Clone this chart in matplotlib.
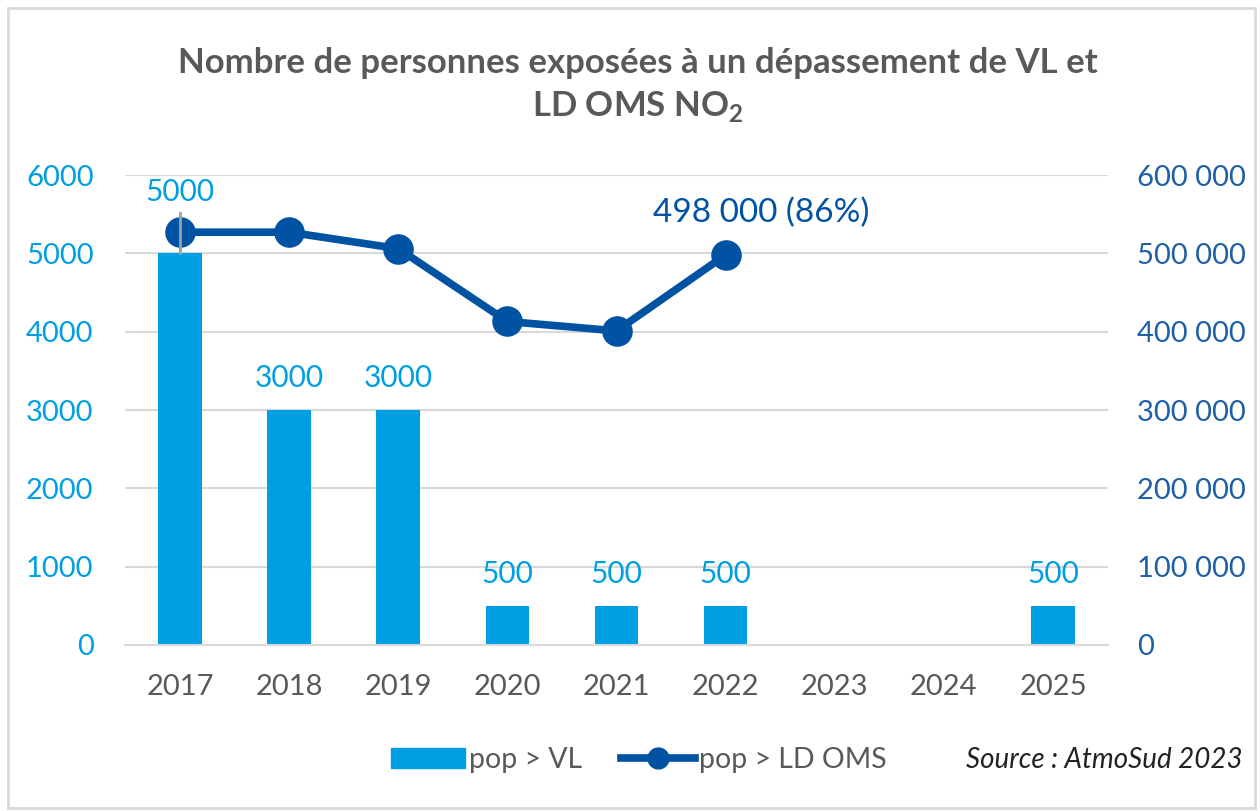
import matplotlib.pyplot as plt
import matplotlib.patches as mpatches
import numpy as np

years = ['2017', '2018', '2019', '2020', '2021', '2022', '2023', '2024', '2025']
pop_vl = [5000, 3000, 3000, 500, 500, 500, 0, 0, 500]
pop_ld_oms = [527000, 527000, 506000, 413000, 401000, 498000]
left_ticks = [0, 1000, 2000, 3000, 4000, 5000, 6000]
right_ticks = [0, 100000, 200000, 300000, 400000, 500000, 600000]

bar_color = '#009FE3'
line_color = '#0052A3'
grey = '#595959'

plt.rcParams['font.family'] = ['Lato', 'DejaVu Sans']

fig = plt.figure(figsize=(12.6, 8.11), dpi=100)
ax = fig.add_axes([0.0996, 0.2047, 0.7794, 0.5795])
ax2 = ax.twinx()

x = np.arange(len(years))
ax.bar(x, pop_vl, width=0.40, color=bar_color, zorder=2)

# bar labels (skip empty years)
for xi, v in zip(x, pop_vl):
    if v == 0:
        continue
    off = 34 if xi == 0 else 13
    ax.annotate(str(v), (xi, v), xytext=(0, off), textcoords='offset points',
                ha='center', va='bottom', fontsize=21.5, color=bar_color)

ax.set_xlim(-0.5, len(years) - 0.5)
ax.set_ylim(0, 6000)
ax.set_yticks(left_ticks)
ax.set_xticks(x)
ax.set_xticklabels(years)
ax.yaxis.grid(True, color='#D9D9D9', lw=1.5, zorder=0)
ax.set_axisbelow(True)

xl = np.arange(len(pop_ld_oms))
ax2.plot(xl, pop_ld_oms, color=line_color, lw=5.5, marker='o', ms=21,
         zorder=5, solid_capstyle='round')
# little grey leader line at 2017, over the marker
ax2.plot([0, 0], [pop_vl[0] * 100, 552000], color='#A0A0A0', lw=2, zorder=6)
ax2.set_ylim(0, 600000)
ax2.set_yticks(right_ticks)
ax2.set_yticklabels([f'{v:,}'.replace(',', ' ') for v in right_ticks])
ax2.annotate('498 000 (86%)', (xl[-1], pop_ld_oms[-1]), xytext=(-52, 19),
             textcoords='offset points', ha='left', va='bottom',
             fontsize=24, color=line_color)

for a in (ax, ax2):
    for s in a.spines.values():
        s.set_visible(False)
ax.spines['bottom'].set_visible(True)
ax.spines['bottom'].set_color('#D9D9D9')
ax.spines['bottom'].set_linewidth(1.5)

ax.tick_params(axis='y', length=0, pad=23, labelsize=21, labelcolor=bar_color)
ax.tick_params(axis='x', length=0, pad=21, labelsize=21, labelcolor=grey)
ax2.tick_params(axis='y', length=0, pad=21.5, labelsize=21, labelcolor='#1F5FA8')

fig.text(0.506, 0.922, 'Nombre de personnes exposées à un dépassement de VL et',
         ha='center', va='center', fontsize=25, fontweight='bold', color=grey)
fig.text(0.506, 0.869, r'LD OMS NO$_\mathregular{2}$', ha='center', va='center',
         fontsize=25, fontweight='bold', color=grey)

handles = [mpatches.Patch(color=bar_color),
           plt.Line2D([], [], color=line_color, lw=5.5, marker='o', ms=15)]
fig.legend(handles, ['pop > VL', 'pop > LD OMS'], loc='center',
           bbox_to_anchor=(0.507, 0.063), ncol=2, frameon=False,
           fontsize=20.5, labelcolor=grey, handlelength=2.6,
           columnspacing=1.35, handletextpad=0.15)
fig.text(0.986, 0.063, 'Source : AtmoSud 2023', ha='right', va='center',
         fontsize=20, style='italic', color='#222222')

fig.patches.append(mpatches.Rectangle((0.006, 0.004), 0.99, 0.986,
                                      transform=fig.transFigure, fill=False,
                                      edgecolor='#D9D9D9', lw=2))

fig.savefig('out.png', dpi=100)
